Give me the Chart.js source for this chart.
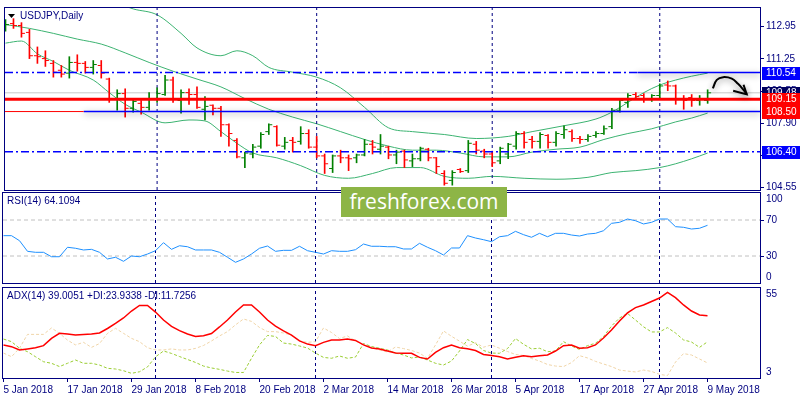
<!DOCTYPE html>
<html>
<head>
<meta charset="utf-8">
<script src="https://cdn.jsdelivr.net/npm/chart.js@4.4.1/dist/chart.umd.min.js"></script>
<style>
  html, body { margin: 0; padding: 0; background: #fff; }
  #wrap { position: relative; width: 800px; height: 400px; overflow: hidden; background: #fff; }
  #wrap canvas { position: absolute; left: 0; }
  #wm { position: absolute; left: 341px; top: 187px; width: 166px; height: 30px; background: #8db546;
        color: #fff; font: 21px "Open Sans", sans-serif; line-height: 29px; text-align: center; z-index: 5; }
</style>
</head>
<body>
<div id="wrap">
  <canvas id="main" width="800" height="200" style="top:0px"></canvas>
  <canvas id="rsi" width="800" height="106" style="top:185px"></canvas>
  <canvas id="adx" width="800" height="120" style="top:280px"></canvas>
  <div id="wm">freshforex.com</div>
</div>
<script>
// ---- data (bar index 0 = 5 Jan 2018, one bar per trading day) ----
var dateLabels = ["5 Jan 2018", "17 Jan 2018", "29 Jan 2018", "8 Feb 2018", "20 Feb 2018", "2 Mar 2018",
                  "14 Mar 2018", "26 Mar 2018", "5 Apr 2018", "17 Apr 2018", "27 Apr 2018", "9 May 2018"];
var dateIdx = [0, 8, 16, 24, 32, 40, 48, 56, 64, 72, 80, 88];
var sepIdx = [19, 39, 61, 82]; // first bar of Feb, Mar, Apr, May

var open = [112.80,113.10,113.00,112.64,111.42,111.27,111.02,110.66,110.51,111.07,
  111.02,110.81,110.91,110.20,109.13,109.44,108.67,108.93,108.72,109.13,
  109.39,110.15,109.08,109.49,109.39,108.62,108.83,108.67,107.81,106.99,
  106.08,106.28,106.69,107.45,107.71,106.69,106.99,106.94,107.35,106.64,
  106.18,105.52,106.18,106.08,106.08,106.23,106.79,106.53,106.64,106.23,
  106.43,105.92,106.03,106.53,106.08,105.26,104.90,105.47,105.41,106.79,
  106.43,106.28,105.92,106.28,106.69,107.35,107.04,106.94,107.25,106.89,
  107.30,107.45,107.09,107.04,107.25,107.35,107.71,108.57,108.98,109.39,
  109.34,109.13,109.34,109.89,109.84,109.18,109.23,109.08,109.08];
var high = [113.31,113.36,113.15,112.80,111.88,111.68,111.17,110.91,111.37,111.47,
  111.12,111.17,111.17,110.25,109.64,109.69,109.13,109.08,109.49,109.74,
  110.40,110.30,109.64,109.69,109.79,109.28,108.85,108.77,107.86,107.09,
  106.38,106.79,107.40,107.86,107.76,107.15,107.15,107.71,107.55,107.20,
  106.28,106.23,106.48,106.23,106.28,107.04,106.99,107.30,106.69,106.48,
  106.48,106.28,106.64,106.58,106.10,105.41,105.41,105.52,106.99,106.94,
  106.53,106.43,106.64,106.84,107.45,107.45,107.20,107.40,107.30,107.45,
  107.76,107.55,107.20,107.30,107.45,107.76,108.67,109.13,109.44,109.49,
  109.44,109.39,109.95,110.10,109.89,109.34,109.39,109.34,109.64];
var low = [112.70,112.85,112.39,111.27,111.02,110.86,110.30,110.30,110.25,110.61,
  110.51,110.46,110.25,108.98,108.57,108.21,108.47,108.37,108.57,108.98,
  109.34,108.98,108.42,108.88,108.67,108.06,108.32,107.20,106.69,106.08,
  105.57,106.08,106.58,107.30,106.69,106.53,106.38,106.79,106.58,106.08,
  105.26,105.31,105.82,105.41,105.82,106.18,106.28,106.28,106.03,105.77,
  105.57,105.62,105.92,105.92,105.26,104.65,104.65,105.31,105.31,106.28,
  106.08,105.62,105.77,106.03,106.53,106.58,106.58,106.58,106.58,106.69,
  107.09,106.94,106.84,106.94,107.15,107.30,107.60,108.47,108.72,109.13,
  108.98,109.03,109.23,109.59,108.88,108.62,108.77,108.83,108.93];
var close = [113.05,113.00,112.59,111.42,111.37,111.17,110.56,110.46,111.07,111.02,
  110.81,110.96,110.51,109.18,109.44,108.67,109.03,108.72,109.13,109.44,
  110.15,109.13,109.49,109.39,108.72,108.77,108.67,107.81,107.35,106.13,
  106.33,106.64,107.30,107.81,106.74,106.89,106.89,107.35,106.64,106.18,
  105.77,106.18,106.08,106.03,106.23,106.79,106.64,106.69,106.23,106.38,
  105.97,106.03,106.58,106.08,105.62,104.75,105.31,105.36,106.84,106.48,
  106.28,105.82,106.58,106.79,107.35,106.89,106.94,107.30,106.89,107.35,
  107.55,107.09,107.04,107.20,107.35,107.60,108.57,109.08,109.34,109.28,
  109.18,109.34,109.84,109.84,109.13,109.08,109.08,109.18,109.48];

// Bollinger bands, read at a sample of bars
var upperIdx = [14,16,19,22,24,27,29,31,33,36,39,42,45,48,51,55,59,63,66,70,74,76,78,80,82,84,86,88];
var upperVals = [114.17,113.87,113.56,112.59,111.83,111.42,111.68,111.42,110.81,110.56,110.30,109.74,108.72,107.65,
  107.45,107.30,107.09,107.20,107.45,107.76,108.11,108.47,108.98,109.49,109.89,110.15,110.35,110.51];
var midIdx = [0,3,6,9,12,15,18,21,24,27,30,33,36,39,42,45,48,51,54,57,60,63,66,69,72,75,78,81,84,86,88];
var midVals = [113.05,112.85,112.59,112.29,112.03,111.57,111.07,110.61,110.20,109.79,109.18,108.62,108.21,107.86,
  107.45,107.04,106.69,106.48,106.48,106.33,106.13,106.13,106.38,106.53,106.64,107.04,107.35,107.60,107.96,108.16,108.42];
var lowIdx = [0,2,4,6,8,11,13,15,17,20,23,25,27,29,31,34,37,40,43,46,49,52,55,58,61,65,69,73,76,79,82,84,86,88];
var lowVals = [112.08,112.19,111.52,111.12,110.66,110.15,109.49,108.88,108.47,107.91,108.06,108.01,107.45,106.84,
  106.33,106.08,105.67,105.16,105.01,105.26,105.57,105.57,105.11,105.01,105.11,105.01,104.96,105.06,105.31,105.41,
  105.57,105.77,106.03,106.33];

var rsi = [52.6,52.6,47.0,35.2,34.1,34.1,29.2,29.2,39.7,38.6,
  36.7,37.4,34.1,26.7,28.6,24.1,30.0,29.2,32.2,35.9,
  44.8,37.4,41.4,40.3,36.7,36.7,36.7,34.1,28.6,23.0,
  26.7,32.2,38.6,41.1,35.2,36.3,36.3,40.8,35.9,34.1,
  32.2,35.9,35.2,35.2,37.0,43.3,40.8,40.8,40.3,40.3,
  37.8,37.8,44.1,39.7,35.9,31.1,38.9,38.9,52.6,50.0,
  48.1,45.9,51.4,52.6,57.4,53.7,50.8,55.2,51.4,55.2,
  55.2,53.3,52.2,54.4,55.2,58.1,66.3,67.4,71.1,69.2,
  65.6,67.4,71.1,71.1,62.6,61.9,60.0,60.8,64.1];
var adx = [22.1,21.1,19.2,19.8,20.5,21.7,25.9,28.8,28.4,27.8,
  28.2,28.4,29.0,31.6,34.5,37.7,41.7,44.9,44.9,41.1,
  36.5,32.8,30.4,28.4,27.0,27.4,28.7,32.5,36.5,41.1,
  45.2,45.2,41.1,36.5,33.0,30.2,27.8,24.4,22.6,21.7,
  23.6,25.0,25.0,25.5,24.7,22.1,20.3,19.8,18.6,17.4,
  17.3,17.3,14.9,14.0,17.8,20.5,22.1,20.5,19.9,18.9,
  16.6,16.0,15.3,14.0,15.0,15.9,15.3,15.9,16.3,18.6,
  21.7,22.1,20.2,20.5,22.1,26.1,30.7,35.9,40.6,43.7,
  45.2,47.2,49.2,52.5,49.4,45.2,41.7,39.4,39.0];
var plusDI = [25.5,24.0,20.2,18.2,15.3,12.4,11.5,9.6,11.5,13.4,
  11.5,11.5,10.5,8.6,8.2,7.2,5.7,6.6,9.4,15.2,
  18.6,17.2,15.4,13.7,12.0,9.9,8.8,8.0,7.0,6.2,
  6.2,14.4,22.1,27.6,27.0,23.2,22.6,21.5,20.3,17.4,
  14.9,14.4,15.7,14.4,15.1,22.9,21.2,20.2,19.2,17.4,
  16.3,14.6,15.1,13.4,11.5,10.5,12.8,18.6,25.2,22.9,
  18.9,17.4,17.3,20.0,25.8,22.5,19.8,20.2,18.2,18.6,
  24.0,21.5,19.5,21.7,23.1,26.9,33.0,37.7,40.3,36.5,
  32.6,29.6,29.6,32.1,29.0,25.0,23.8,20.7,23.9];
var minusDI = [17.4,15.3,20.2,28.2,28.2,28.2,31.9,28.8,24.9,22.1,
  23.6,20.7,22.9,28.8,31.7,28.8,25.9,24.0,20.5,19.2,
  19.2,19.8,19.2,19.2,20.1,21.8,24.4,27.3,29.8,33.7,
  37.1,35.7,32.2,29.8,29.8,29.0,27.8,24.4,23.6,24.0,
  31.9,29.3,25.8,27.3,24.4,22.1,20.5,19.2,18.0,20.9,
  20.0,18.9,17.4,14.4,22.1,30.2,27.1,24.3,21.4,23.4,
  20.8,22.1,20.2,18.3,16.6,16.0,14.3,12.8,10.8,9.9,
  9.6,11.9,15.9,14.6,12.6,11.1,9.6,7.6,7.0,6.5,
  7.6,6.8,5.1,4.4,12.2,17.1,16.3,14.0,11.7];

var priceTicks = [104.55, 106.20, 107.90, 109.55, 111.25, 112.95];
var rsiTicks = [30, 70];
var levelRes = 110.54, levelBid = 109.48, levelPivot = 109.15, levelSup = 108.50, levelLow = 106.40;
var resSolidFrom = 79.2, supBlueFrom = 9.8;   // bar index where the drawn lines change style
var boxLevels = [levelRes, levelBid, levelPivot, levelSup, levelLow];
var boxColors = ["#0000ff", "#000060", "#ff0000", "#ff0000", "#0000ff"];

// hand-drawn arrow, in (bar, price) units
var arrowX = [88.65, 89.15, 89.94, 91.03, 91.81, 92.44, 92.9];
var arrowY = [109.71, 110.16, 110.30, 110.22, 109.95, 109.66, 109.40];
var headX = [91.2, 92.9, 92.5];
var headY = [109.59, 109.40, 109.90];

// ---- styling ----
var FONT = "Liberation Sans";
var NAVY = "#000080", BLUE = "#0000ff", RED = "#ff0000", UP = "#008000", BAND = "#3cb371";
var X_MIN = -0.0625, X_MAX = 94.5625;
var P_MIN = 104.397, P_MAX = 113.917;

function pts(xs, ys) { return xs.map(function (x, i) { return {x: x, y: ys[i]}; }); }
function series(vals) { return vals.map(function (v, i) { return {x: i, y: v}; }); }

function hline(y, x0, x1, color, width, dash, extra) {
  return Object.assign({type: "line", data: [{x: x0, y: y}, {x: x1, y: y}], borderColor: color,
    borderWidth: width, borderDash: dash || [], pointRadius: 0, order: 1}, extra || {});
}
function sepSets(lo, hi) {
  return sepIdx.map(function (s) {
    return {type: "line", data: [{x: s, y: lo}, {x: s, y: hi}], borderColor: NAVY, borderWidth: 1,
      borderDash: [3, 3], pointRadius: 0, order: 4};
  });
}

var deco = {
  id: "deco",
  beforeDatasetDraw: function (chart, args) {
    var ds = chart.data.datasets[args.index];
    if (ds.glow) {
      var c = chart.ctx;
      c.save();
      c.shadowColor = "rgba(0,0,0,0.45)";
      c.shadowBlur = 6;
      c.shadowOffsetY = 2;
    }
  },
  afterDatasetDraw: function (chart, args) {
    if (chart.data.datasets[args.index].glow) chart.ctx.restore();
  },
  afterDraw: function (chart, args, o) {
    var ctx = chart.ctx, a = chart.chartArea;
    ctx.save();
    ctx.strokeStyle = NAVY;
    ctx.lineWidth = 1;
    ctx.strokeRect(a.left - 0.5, a.top - 0.5, a.right - a.left + 1, a.bottom - a.top + 1);
    ctx.font = "10px '" + FONT + "'";
    ctx.textBaseline = "middle";
    ctx.fillStyle = NAVY;
    if (o.triangle) {
      ctx.fillStyle = "#000";
      ctx.beginPath();
      ctx.moveTo(a.left + 3, a.top + 6);
      ctx.lineTo(a.left + 10, a.top + 6);
      ctx.lineTo(a.left + 6.5, a.top + 10);
      ctx.closePath();
      ctx.fill();
      ctx.fillStyle = NAVY;
    }
    if (o.title) ctx.fillText(o.title, a.left + (o.triangle ? 15 : 4), a.top + 8);
    if (o.edge) {
      ctx.fillText(o.edge[0], a.right + 6, a.top + 6);
      ctx.fillText(o.edge[1], a.right + 6, a.bottom - 6);
    }
    if (o.boxes) {
      var y = chart.scales.y;
      boxLevels.forEach(function (lv, i) {
        var py = Math.round(y.getPixelForValue(lv));
        ctx.fillStyle = boxColors[i];
        ctx.fillRect(a.right + 2, py - 6, 800 - a.right - 2, 13);
        ctx.fillStyle = "#fff";
        ctx.fillText(lv.toFixed(2), a.right + 6, py + 0.5);
      });
    }
    ctx.restore();
  }
};

function baseOptions(pad, yScale, xScale, deco) {
  return {
    responsive: false, animation: false, devicePixelRatio: 1, events: [],
    layout: {padding: pad},
    plugins: {legend: {display: false}, tooltip: {enabled: false}, deco: deco},
    scales: {x: xScale, y: yScale}
  };
}
var hiddenX = {type: "linear", min: X_MIN, max: X_MAX, offset: false, display: false};
function rightAxis(min, max, ticks, fmt) {
  return {
    position: "right", min: min, max: max,
    afterFit: function (s) { s.width = 40; },
    afterBuildTicks: function (s) { s.ticks = ticks.map(function (v) { return {value: v}; }); },
    grid: {drawOnChartArea: false, color: NAVY, tickLength: 4, drawTicks: ticks.length > 0},
    border: {display: false},
    ticks: {color: NAVY, font: {family: FONT, size: 10}, padding: 2, display: ticks.length > 0,
      callback: function (v) { return fmt ? v.toFixed(2) : String(v); }}
  };
}

// ---- main price panel ----
var barColor = close.map(function (c, i) { return c >= open[i] ? UP : RED; });
var mainSets = [
  {type: "line", data: pts(arrowX, arrowY), borderColor: "#000", borderWidth: 2, tension: 0.4,
    pointRadius: 0, glow: true, order: 0},
  {type: "line", data: pts(headX, headY), borderColor: "#000", borderWidth: 2, pointRadius: 0, glow: true, order: 0},
  hline(levelRes, X_MIN, resSolidFrom, BLUE, 1.5, [8, 3, 2, 3]),
  hline(levelRes, resSolidFrom, X_MAX, BLUE, 1.5, [], {glow: true}),
  hline(levelBid, X_MIN, X_MAX, "#c8c8c8", 1, [], {order: 6}),
  hline(levelPivot, X_MIN, X_MAX, RED, 3),
  hline(levelSup, X_MIN, supBlueFrom, RED, 1),
  hline(levelSup, supBlueFrom, X_MAX, BLUE, 1.5, [], {glow: true}),
  hline(levelLow, X_MIN, X_MAX, BLUE, 1.5, [8, 3, 2, 3]),
  {type: "line", data: open.map(function (v, i) { return {x: i - 0.25, y: v}; }), showLine: false,
    pointStyle: "line", pointRadius: 1.5, pointBorderWidth: 1, pointBorderColor: barColor, order: 2},
  {type: "line", data: close.map(function (v, i) { return {x: i + 0.25, y: v}; }), showLine: false,
    pointStyle: "line", pointRadius: 1.5, pointBorderWidth: 1, pointBorderColor: barColor, order: 2},
  {type: "bar", data: low.map(function (v, i) { return {x: i, y: [v, high[i]]}; }), backgroundColor: barColor,
    barThickness: 1, borderWidth: 0, order: 3},
  {type: "line", data: pts(upperIdx, upperVals), borderColor: BAND, borderWidth: 1, pointRadius: 0,
    cubicInterpolationMode: "monotone", order: 5},
  {type: "line", data: pts(midIdx, midVals), borderColor: BAND, borderWidth: 1, pointRadius: 0,
    cubicInterpolationMode: "monotone", order: 5},
  {type: "line", data: pts(lowIdx, lowVals), borderColor: BAND, borderWidth: 1, pointRadius: 0,
    cubicInterpolationMode: "monotone", order: 5}
].concat(sepSets(P_MIN, P_MAX));

new Chart(document.getElementById("main"), {
  type: "line",
  data: {datasets: mainSets},
  options: baseOptions({left: 3, top: 3, bottom: 10, right: 0}, rightAxis(P_MIN, P_MAX, priceTicks, true), hiddenX,
    {title: "USDJPY,Daily", triangle: true, boxes: true}),
  plugins: [deco]
});

// ---- RSI panel ----
new Chart(document.getElementById("rsi"), {
  type: "line",
  data: {datasets: [
    {data: series(rsi), borderColor: "#1e90ff", borderWidth: 1, pointRadius: 0, order: 0},
    hline(70, X_MIN, X_MAX, "#c0c0c0", 1, [4, 3]),
    hline(30, X_MIN, X_MAX, "#c0c0c0", 1, [4, 3])
  ].concat(sepSets(0, 100))},
  options: baseOptions({left: 3, top: 8, bottom: 7, right: 0}, rightAxis(0, 100, rsiTicks, false), hiddenX,
    {title: "RSI(14) 64.1094", edge: ["100", "0"]}),
  plugins: [deco]
});

// ---- ADX panel with the date axis ----
new Chart(document.getElementById("adx"), {
  type: "line",
  data: {datasets: [
    {data: series(adx), borderColor: RED, borderWidth: 1.5, pointRadius: 0, order: 0},
    {data: series(plusDI), borderColor: "#9acd32", borderWidth: 1, borderDash: [3, 2], pointRadius: 0, order: 1},
    {data: series(minusDI), borderColor: "#f0d5a8", borderWidth: 1, borderDash: [3, 2], pointRadius: 0, order: 2}
  ].concat(sepSets(3, 55))},
  options: baseOptions({left: 3, top: 8, bottom: 0, right: 0}, rightAxis(3, 55, [], false), {
      type: "linear", min: X_MIN, max: X_MAX, offset: false, position: "bottom",
      afterFit: function (s) { s.height = 22; },
      afterBuildTicks: function (s) { s.ticks = dateIdx.map(function (v) { return {value: v}; }); },
      grid: {drawOnChartArea: false, color: NAVY, tickLength: 4},
      border: {display: false},
      ticks: {align: "start", color: NAVY, font: {family: FONT, size: 10}, padding: 2, autoSkip: false, maxRotation: 0,
        callback: function (v) { return dateLabels[dateIdx.indexOf(v)]; }}
    },
    {title: "ADX(14) 39.0051 +DI:23.9338 -DI:11.7256", edge: ["55", "3"]}),
  plugins: [deco]
});
</script>
</body>
</html>
